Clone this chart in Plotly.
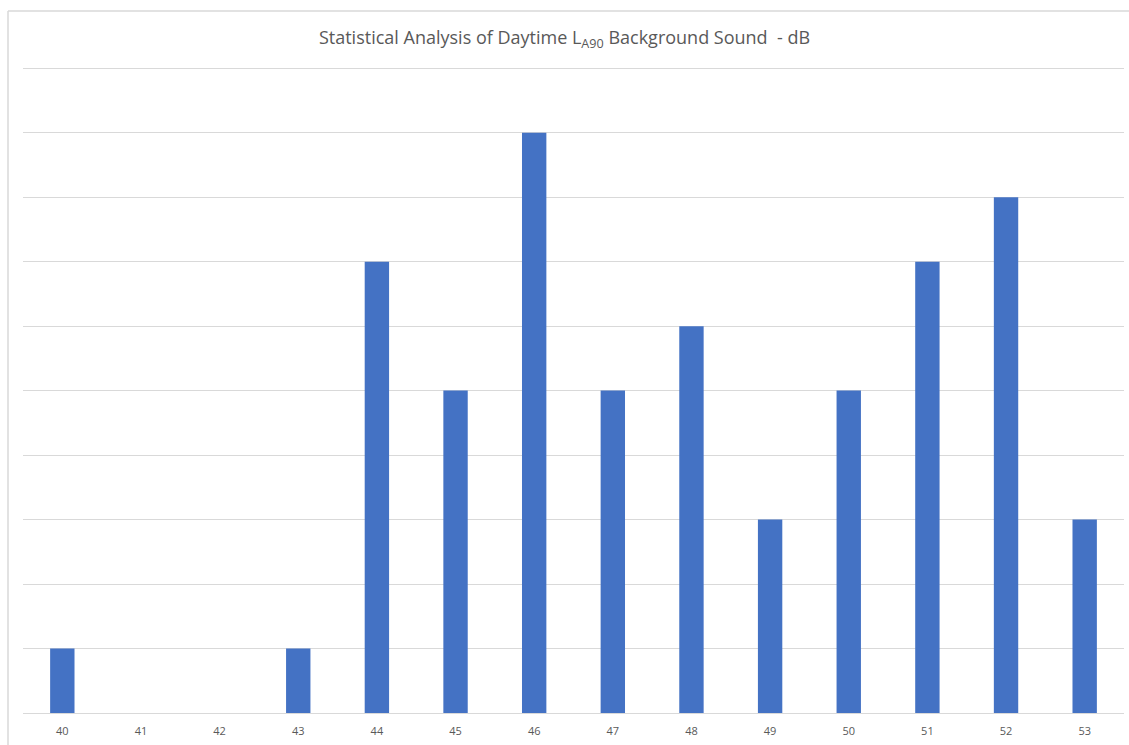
import plotly.graph_objects as go

categories = ["40", "41", "42", "43", "44", "45", "46", "47", "48", "49", "50", "51", "52", "53"]
counts = [1, 0, 0, 1, 7, 5, 9, 5, 6, 3, 5, 7, 8, 3]

W, H = 1129, 745
ml, mr, mt, mb = 23, 5, 65, 32
pw = W - ml - mr
ph = H - mt - mb

def px_x(v):
    return (v - ml) / pw

def px_y(v):
    return (H - mb - v) / ph

fig = go.Figure(go.Bar(
    x=categories, y=counts,
    marker=dict(color="#4472C4", line=dict(width=0)),
    width=0.31,
))

fig.update_layout(
    width=W, height=H,
    margin=dict(l=ml, r=mr, t=mt, b=mb),
    paper_bgcolor="white", plot_bgcolor="white",
    font=dict(family="Open Sans, Liberation Sans, sans-serif", color="#595959"),
    title=dict(
        text="Statistical Analysis of Daytime L<sub>A90</sub> Background Sound  - dB",
        x=0.5, xanchor="center", y=1 - 38 / H, yanchor="middle",
        font=dict(size=18, color="#595959"),
    ),
    showlegend=False,
)
fig.update_xaxes(
    type="category", showgrid=False, showline=True, linecolor="#d9d9d9", linewidth=1,
    ticks="outside", ticklen=8, tickcolor="rgba(0,0,0,0)",
    tickfont=dict(size=11, color="#595959"),
)
fig.update_yaxes(
    range=[0, 10.05], dtick=1, showgrid=True, gridcolor="#d9d9d9", gridwidth=1,
    showticklabels=False, zeroline=False, fixedrange=True,
)
# chart-area border (left and top edges)
fig.add_shape(type="line", xref="paper", yref="paper",
              x0=px_x(8), x1=px_x(8), y0=px_y(H), y1=px_y(11),
              line=dict(color="#d9d9d9", width=1.5))
fig.add_shape(type="line", xref="paper", yref="paper",
              x0=px_x(8), x1=px_x(W), y0=px_y(11), y1=px_y(11),
              line=dict(color="#d9d9d9", width=1.5))

fig.write_html("out.html", config={"displayModeBar": False},
               post_script="document.body.style.margin='0px';document.body.style.overflow='hidden';")
